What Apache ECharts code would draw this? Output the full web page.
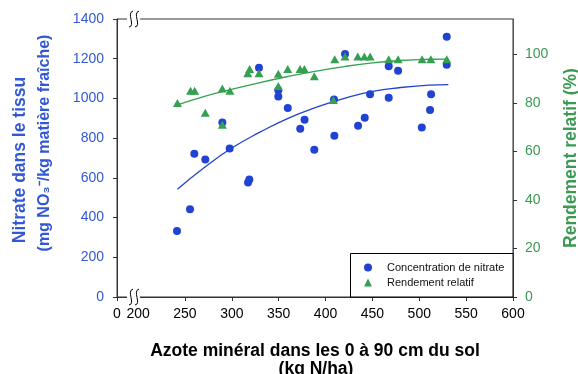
<!DOCTYPE html>
<html><head><meta charset="utf-8">
<script src="https://cdn.jsdelivr.net/npm/echarts@6/dist/echarts.min.js"></script>
<style>html,body{margin:0;padding:0;background:#fff}#c{width:578px;height:374px}</style>
</head><body><div id="c"></div>
<script>
// Nitrate concentration (left axis, mg NO3-/kg)
const nitrateX = [241.5,255.4,260,271.7,289.9,297.7,317.3,318.7,329,349.6,349.6,359.7,373,377.6,388,409,409.4,420.8,434.7,441.8,447.5,467.4,467.4,477.4,502.7,511.5,512.6,529.3,529.3];
const nitrateY = [333,442,722,693,879,748,577,592,1154,1041,1010,952,847,893,742,994,812,1224,863,903,1021,1162,1004,1140,853,942,1021,1310,1170];
// Relative yield (right axis, %)
const rendX = [242,256,260.4,271.7,289.9,289.9,298,317,319,329,349.6,349.6,359.7,372.8,377.4,388,409.8,408.3,420.8,434.4,441.4,447.5,467.4,477.4,503,512.3,529.3];
const rendY = [80,85,85,76,86,71,85,92.2,94,92.2,92,87,94,94,94,91,98,81.2,99.1,99.1,99.1,99.1,98,98,98,98,98];
// Trend lines
const trendX = [242,270,300,330,360,390,420,450,480,510,531];
const nitrateTrend = [543,650,750,830,900,955,1000,1035,1055,1067,1070];
const rendTrend = [79.2,82.6,85.6,88.4,90.9,93.1,95.0,96.5,97.5,98.0,98.1];
// Axes
const xOrigin = 177.5; // broken axis start, labelled "0"
const xTickValues = [250,300,350,400,450,500,550,600];
const xLabelValues = [200,250,300,350,400,450,500,550,600];
const rightTicks = [0,20,40,60,80,100];
const nameNitrate = 'Concentration de nitrate';
const nameRend = 'Rendement relatif';

const FONT = '"Liberation Sans", Arial, sans-serif';
const BLUE = '#2043d3', GREEN = '#35a052';
const BLUE_T = '#3358d6', GREEN_T = '#3a9a52';

const chart = echarts.init(document.getElementById('c'), null, {renderer:'canvas'});

function squiggle(x, y) {
  return [
    {type:'rect', z:10, shape:{x:x-4, y:y-3, width:13, height:6}, style:{fill:'#fff'}},
    {type:'bezierCurve', z:11, shape:{x1:x+2, y1:y-8, cpx1:x-5, cpy1:y-6, cpx2:x+5, cpy2:y+7, x2:x-2, y2:y+8}, style:{stroke:'#000', lineWidth:1, fill:null}},
    {type:'bezierCurve', z:11, shape:{x1:x+8, y1:y-8, cpx1:x+1, cpy1:y-6, cpx2:x+11, cpy2:y+7, x2:x+4, y2:y+8}, style:{stroke:'#000', lineWidth:1, fill:null}}
  ];
}

chart.setOption({
  animation:false,
  textStyle:{fontFamily:FONT},
  grid:{left:117, right:65, top:19, bottom:77, show:true, borderColor:'#333', borderWidth:1},
  legend:{
    orient:'vertical', left:364, top:261, padding:0, itemGap:2,
    itemWidth:8, itemHeight:8, z:20,
    data:[{name:nameNitrate, icon:'circle'}, {name:nameRend, icon:'triangle'}],
    textStyle:{fontSize:11, color:'#111', fontFamily:FONT, lineHeight:13, padding:[0,0,0,10]}
  },
  xAxis:{
    type:'value', min:xOrigin, max:600,
    axisLine:{lineStyle:{color:'#333'}},
    axisTick:{customValues:[xOrigin].concat(xTickValues), length:4, lineStyle:{color:'#333'}},
    axisLabel:{customValues:[xOrigin].concat(xLabelValues), showMinLabel:true, showMaxLabel:true,
      formatter:v => v === xOrigin ? '0' : String(v), fontSize:14, color:'#000', margin:10, fontFamily:FONT},
    splitLine:{show:false}
  },
  yAxis:[
    {type:'value', min:0, max:1400, interval:200, position:'left',
      axisLine:{show:true, lineStyle:{color:'#333'}},
      axisTick:{show:true, length:4, lineStyle:{color:'#333'}},
      axisLabel:{fontSize:14, color:BLUE_T, margin:13, fontFamily:FONT, formatter:v => String(v)},
      splitLine:{show:false}},
    {type:'value', min:0, max:114.6, position:'right',
      axisLine:{show:true, lineStyle:{color:'#555'}},
      axisTick:{show:true, customValues:rightTicks, length:4, lineStyle:{color:'#333'}},
      axisLabel:{customValues:rightTicks, fontSize:14, color:GREEN_T, margin:12, fontFamily:FONT, formatter:v => String(v)},
      splitLine:{show:false}}
  ],
  graphic:[
    ...squiggle(131, 19),
    ...squiggle(131, 297),
    {type:'rect', z:3, shape:{x:350.5, y:253.5, width:162.5, height:43.5}, style:{fill:'#fff', stroke:'#000', lineWidth:1}},
    {type:'text', rotation:Math.PI/2, x:20, y:160, style:{text:'Nitrate dans le tissu', font:'bold 17.5px '+FONT, fill:BLUE_T, textAlign:'center', textVerticalAlign:'middle'}},
    {type:'text', rotation:Math.PI/2, x:45, y:143, style:{text:'(mg NO₃⁻/kg matière fraîche)', font:'bold 16px '+FONT, fill:BLUE_T, textAlign:'center', textVerticalAlign:'middle'}},
    {type:'text', rotation:Math.PI/2, x:571, y:158, style:{text:'Rendement relatif (%)', font:'bold 17.5px '+FONT, fill:GREEN_T, textAlign:'center', textVerticalAlign:'middle'}},
    {type:'text', x:315, y:351, style:{text:'Azote minéral dans les 0 à 90 cm du sol', font:'bold 17.5px '+FONT, fill:'#000', textAlign:'center', textVerticalAlign:'middle'}},
    {type:'text', x:316, y:369.5, style:{text:'(kg N/ha)', font:'bold 17.5px '+FONT, fill:'#000', textAlign:'center', textVerticalAlign:'middle'}}
  ],
  series:[
    {type:'line', yAxisIndex:0, smooth:true, showSymbol:false, silent:true, z:1,
      data:trendX.map((x,i)=>[x, nitrateTrend[i]]), lineStyle:{color:BLUE, width:1.3}},
    {type:'line', yAxisIndex:1, smooth:true, showSymbol:false, silent:true, z:1,
      data:trendX.map((x,i)=>[x, rendTrend[i]]), lineStyle:{color:GREEN, width:1.3}},
    {name:nameNitrate, type:'scatter', yAxisIndex:0, symbol:'circle', symbolSize:8, z:3,
      itemStyle:{color:BLUE, opacity:1},
      data:nitrateX.map((x,i)=>[x, nitrateY[i]])},
    {name:nameRend, type:'scatter', yAxisIndex:1, symbol:'triangle', symbolSize:[9,8], z:4,
      itemStyle:{color:GREEN, opacity:1},
      data:rendX.map((x,i)=>[x, rendY[i]])}
  ]
});
</script></body></html>
